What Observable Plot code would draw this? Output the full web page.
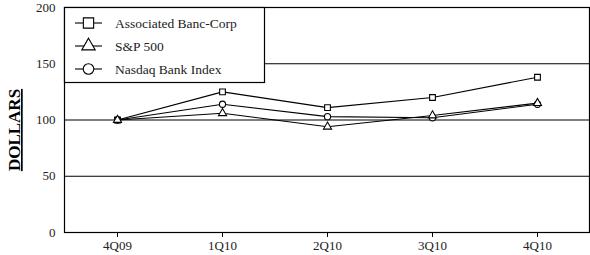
<!DOCTYPE html>
<html>
<head>
<meta charset="utf-8">
<script src="https://cdn.jsdelivr.net/npm/d3@7"></script>
<script src="https://cdn.jsdelivr.net/npm/@observablehq/plot@0.6"></script>
<style>
  html, body { margin: 0; padding: 0; background: #fff; }
  svg { display: block; }
  .lgtext { font-family: 'Liberation Serif', 'Times New Roman', serif; font-size: 13.5px; }
</style>
</head>
<body>
<div id="chart"></div>
<script>
const quarters = ["4Q09", "1Q10", "2Q10", "3Q10", "4Q10"];
const associated = [100, 125, 111, 120, 138];
const sp500 = [100, 106, 94, 104, 115];
const nasdaqBank = [100, 114, 103, 102, 114];
const seriesNames = ["Associated Banc-Corp", "S&P 500", "Nasdaq Bank Index"];
const seriesSymbols = ["square", "triangle", "circle"];
const yTicks = [0, 50, 100, 150, 200];
const gridLines = [50, 100, 150];

const seriesValues = [associated, sp500, nasdaqBank];
const data = [];
seriesNames.forEach((name, i) => {
  quarters.forEach((q, j) => data.push({series: name, quarter: q, value: seriesValues[i][j], symbol: seriesSymbols[i]}));
});

const font = "'Liberation Serif', 'Times New Roman', serif";
const symR = {square: 5.8, triangle: 5.0, circle: 5.3};

const chart = Plot.plot({
  width: 590,
  height: 255,
  marginLeft: 64,
  marginRight: 1,
  marginTop: 7,
  marginBottom: 23,
  style: {fontFamily: font, fontSize: "13px", color: "#000", background: "#fff"},
  x: {type: "point", domain: quarters, padding: 0.5, label: null},
  y: {domain: [0, 200], label: null},
  symbol: {domain: seriesSymbols, range: seriesSymbols},
  marks: [
    Plot.ruleY(gridLines, {stroke: "#000", strokeWidth: 1.2}),
    Plot.frame({stroke: "#000", strokeWidth: 1.2}),
    Plot.axisY(yTicks, {tickSize: 0, tickPadding: 9, fontSize: 13, fill: "#222"}),
    Plot.axisX({tickSize: 5, tickPadding: 3, fontSize: 13, fill: "#222", stroke: "#000"}),
    Plot.lineY(data, {x: "quarter", y: "value", z: "series", stroke: "#000", strokeWidth: 1.1}),
    Plot.dot(data, {x: "quarter", y: "value", symbol: "symbol", r: d => symR[d.symbol], fill: "#fff", stroke: "#000", strokeWidth: 1.1})
  ]
});

const svg = d3.select(chart);

// Legend box over the plot
const lg = svg.append("g").attr("text-anchor", "start");
lg.append("rect").attr("x", 64.5).attr("y", 7.5).attr("width", 200).attr("height", 75)
  .attr("fill", "#fff").attr("stroke", "#000").attr("stroke-width", 1.2);
const symGen = {
  square: d3.symbol(d3.symbolSquare, Math.PI * symR.square * symR.square),
  triangle: d3.symbol(d3.symbolTriangle, Math.PI * symR.triangle * symR.triangle),
  circle: d3.symbol(d3.symbolCircle, Math.PI * symR.circle * symR.circle)
};
seriesNames.forEach((name, i) => {
  const cy = 23 + i * 23;
  lg.append("line").attr("x1", 75).attr("x2", 102).attr("y1", cy).attr("y2", cy)
    .attr("stroke", "#000").attr("stroke-width", 1.1);
  lg.append("path").attr("d", symGen[seriesSymbols[i]]()).attr("transform", `translate(88.5,${cy})`)
    .attr("fill", "#fff").attr("stroke", "#000").attr("stroke-width", 1.1);
  lg.append("text").attr("class", "lgtext").attr("x", 115).attr("y", cy).attr("dy", "0.35em")
    .style("text-anchor", "start").style("font-family", font).style("font-size", "13.5px")
    .attr("fill", "#222").text(name);
});

// Y axis title
svg.append("text")
  .attr("transform", "translate(20,130) rotate(-90)")
  .style("text-anchor", "middle")
  .style("font-family", font).style("font-size", "17px").style("font-weight", "bold")
  .attr("text-decoration", "underline")
  .attr("fill", "#000")
  .text("DOLLARS");

document.getElementById("chart").appendChild(chart);
</script>
</body>
</html>
